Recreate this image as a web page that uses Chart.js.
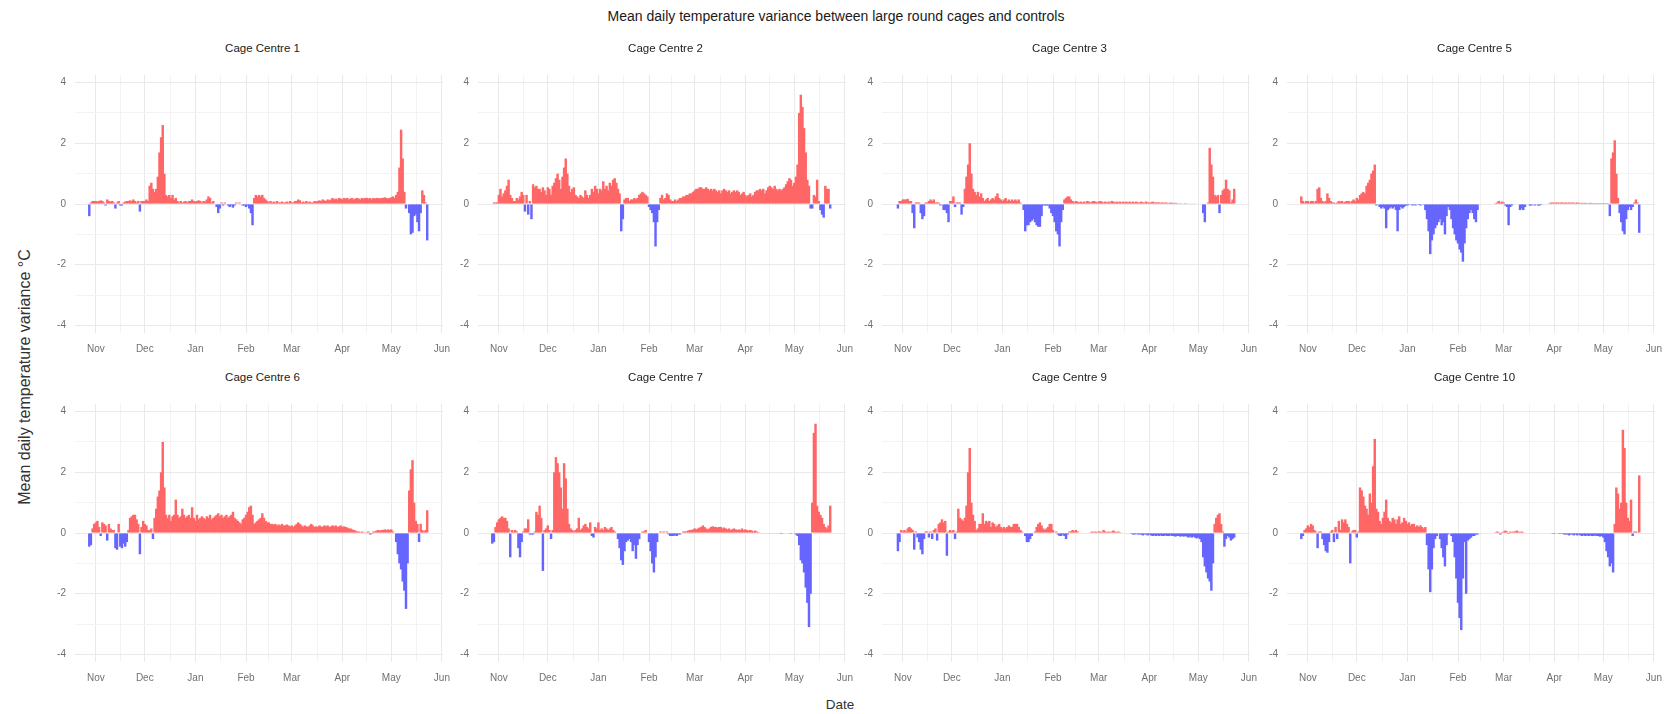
<!DOCTYPE html>
<html><head><meta charset="utf-8">
<script src="https://cdn.jsdelivr.net/npm/chart.js@4.4.1/dist/chart.umd.min.js"></script>
<style>
html,body{margin:0;padding:0;background:#fff;}
body{width:1671px;height:714px;position:relative;overflow:hidden;font-family:"Liberation Sans",Arial,sans-serif;}
.txt{position:absolute;white-space:nowrap;transform:translate(-50%,-50%);color:#1a1a1a;line-height:1;}
</style></head><body>
<div class="txt" style="left:836px;top:16px;font-size:14px;">Mean daily temperature variance between large round cages and controls</div>
<div class="txt" style="left:25px;top:377px;font-size:16px;color:#333;transform:translate(-50%,-50%) rotate(-90deg);">Mean daily temperature variance °C</div>
<div class="txt" style="left:840px;top:705px;font-size:13.5px;color:#333;">Date</div>
<script>
const panelNames = ['Cage Centre 1','Cage Centre 2','Cage Centre 3','Cage Centre 5','Cage Centre 6','Cage Centre 7','Cage Centre 9','Cage Centre 10'];
const firstDay = -4; // 28 Oct, in days from 1 Nov
const monthStarts = [0,30,61,92,120,151,181,212];
const monthLabels = ['Nov','Dec','Jan','Feb','Mar','Apr','May','Jun'];
const monthMids = [15,45.5,76.5,106,135.5,166,196.5];
const yTickLabels = [-4,-2,0,2,4];
const yMinor = [-3,-1,1,3];

const cc1 = [-0.4,0.05,0.1,0.1,0.1,0.08,0.1,0.12,0.1,0.05,
 -0.05,0.15,0.1,0.08,0.1,0.05,-0.15,0.05,0.1,-0.05,
 -0.05,0.05,0.08,0.1,0.1,0.12,0.1,0.15,0.1,0.05,
 0.1,-0.25,0.1,0.1,0.1,0.15,0.1,0.6,0.7,0.5,
 0.4,0.5,0.9,1.7,2.2,2.6,1.0,0.3,0.25,0.3,
 0.2,0.3,0.15,0.2,0.1,0.05,0.1,0.05,0.08,0.1,
 0.05,0.1,0.1,0.15,0.1,0.08,0.1,0.12,0.1,0.05,
 0.1,0.08,0.15,0.25,0.2,0.05,0.1,0,-0.1,-0.3,
 -0.15,0.05,-0.05,0.05,0,-0.05,-0.1,-0.05,-0.12,-0.05,
 0.05,0,0.05,0,-0.05,-0.05,-0.1,-0.05,-0.15,-0.3,
 -0.7,0.2,0.3,0.25,0.3,0.25,0.3,0.2,0.15,0.1,
 0.05,0.1,0.05,0.08,0.05,0.1,0.05,0.05,0.08,0.05,
 0.05,0.08,0.05,0.1,0.05,0.05,0.1,0.1,0.15,0.12,
 0.05,0.08,0.05,0.1,0.05,0.08,0.05,0.05,0.1,0.08,
 0.1,0.12,0.1,0.15,0.12,0.1,0.15,0.12,0.15,0.2,
 0.15,0.18,0.15,0.2,0.18,0.15,0.2,0.18,0.2,0.15,
 0.18,0.2,0.15,0.18,0.2,0.18,0.15,0.2,0.18,0.2,
 0.2,0.18,0.2,0.15,0.2,0.18,0.2,0.2,0.18,0.2,
 0.2,0.22,0.2,0.18,0.2,0.22,0.25,0.2,0.3,0.4,
 1.2,2.45,1.5,0.4,-0.15,0,-0.3,-1.0,-0.95,-0.4,
 -0.35,-0.6,-0.9,-0.3,0.45,0.3,0.05,-1.2];

const cc2 = [0,0.05,0.05,0.05,0.3,0.5,0.25,0.35,0.45,0.6,
 0.8,0.3,0.2,0.1,0.1,0.2,0.15,0.25,0.4,0.3,
 -0.25,0.3,-0.35,0.1,-0.5,0.65,0.55,0.6,0.5,0.5,
 0.4,0.55,0.45,0.3,0.55,0.5,0.3,0.6,0.7,0.85,
 1.0,0.8,0.5,0.9,1.2,1.5,1.0,0.6,0.4,0.5,
 0.55,0.3,0.25,0.2,0.3,0.25,0.2,0.45,0.3,0.2,
 0.3,0.5,0.4,0.6,0.5,0.35,0.5,0.45,0.75,0.5,
 0.6,0.45,0.7,0.6,0.8,0.85,0.7,0.5,0.35,-0.9,
 -0.5,0.15,0.2,0.2,0.1,0.15,0.15,0.2,0.15,0.2,
 0.3,0.35,0.4,0.35,0.3,0.25,-0.1,-0.2,-0.3,-0.6,
 -1.4,-0.6,-0.2,0.2,0.3,0.15,0.2,0.35,0.3,0.15,
 0.1,0.1,0.15,0.1,0.15,0.2,0.2,0.25,0.25,0.3,
 0.3,0.35,0.35,0.4,0.45,0.5,0.5,0.55,0.55,0.5,
 0.5,0.55,0.5,0.45,0.5,0.45,0.5,0.45,0.4,0.45,
 0.35,0.45,0.5,0.45,0.4,0.45,0.35,0.4,0.45,0.4,
 0.45,0.4,0.3,0.35,0.4,0.3,0.25,0.3,0.35,0.25,
 0.3,0.4,0.45,0.45,0.5,0.45,0.5,0.35,0.45,0.55,
 0.6,0.55,0.5,0.6,0.5,0.45,0.5,0.45,0.5,0.55,
 0.65,0.75,0.85,0.8,0.6,0.7,0.9,1.3,3.0,3.6,
 3.2,2.5,1.7,0.8,0.6,-0.15,-0.15,0.3,0.25,0.8,
 0.1,-0.2,-0.35,-0.45,0.6,0.5,0.5,-0.15];

const cc3 = [0,-0.15,0.1,0.1,0.15,0.15,0.15,0.17,0.1,0.1,
 -0.3,-0.8,0.05,0.05,0.05,-0.3,-0.5,-0.4,0.05,0.05,
 0.1,0.15,0.1,0.15,0.05,0.05,0.05,-0.05,0,-0.2,
 -0.2,-0.3,-0.6,0.1,0.1,0.25,-0.1,0.05,0.05,0.05,
 -0.35,-0.1,0.5,0.9,1.3,2.0,1.0,0.5,0.4,0.3,
 0.4,0.25,0.35,0.2,0.1,0.15,0.2,0.1,0.15,0.2,
 0.15,0.25,0.35,0.2,0.15,0.1,0.15,0.2,0.1,0.15,
 0.1,0.15,0.1,0.15,0.1,0.15,0.05,0,-0.2,-0.9,
 -0.7,-0.7,-0.6,-0.55,-0.5,-0.6,-0.7,-0.75,-0.75,-0.4,
 -0.05,-0.05,-0.05,-0.05,-0.15,-0.3,-0.4,-0.6,-0.9,-1.0,
 -1.4,-0.6,-0.2,0.15,0.2,0.25,0.25,0.15,0.1,0.05,
 0.1,0.08,0.05,0.08,0.05,0.08,0.05,0.1,0.08,0.05,
 0.08,0.1,0.08,0.05,0.08,0.1,0.08,0.05,0.08,0.05,
 0.08,0.05,0.1,0.08,0.05,0.08,0.05,0.08,0.05,0.08,
 0.05,0.08,0.05,0.08,0.05,0.08,0.05,0.08,0.05,0.05,
 0.08,0.05,0.05,0.08,0.05,0.05,0.05,0.08,0.05,0.05,
 0.05,0.05,0.04,0.05,0.04,0.05,0.04,0.03,0.05,0.04,
 0.03,0.04,0.03,0.02,0.03,0.02,0.02,0.03,0.02,0.02,
 0.02,0.02,0.02,0.02,0,0,0,0,-0.3,-0.6,
 0,0.05,1.85,1.3,0.9,0.3,0.25,0.3,-0.3,0.3,
 0.45,0.5,0.8,0.5,0.45,0.05,0.15,0.5];

const cc5 = [0.25,0.1,0.05,0.1,0.1,0.05,0.1,0.1,0.05,0.1,
 0.5,0.55,0.2,0.1,0.05,0.1,0.35,0.2,0.1,0.05,
 0.05,0.03,0.05,0.1,0.08,0.1,0.05,0.08,0.1,0.1,
 0.05,0.1,0.15,0.1,0.2,0.15,0.3,0.35,0.4,0.35,
 0.6,0.7,0.8,1.0,1.1,1.3,-0.05,0,-0.1,-0.15,
 -0.1,-0.15,-0.8,-0.2,-0.15,-0.1,-0.15,-0.1,-0.2,-0.9,
 -0.2,-0.1,-0.15,-0.1,-0.05,-0.05,-0.03,0,-0.05,-0.03,
 -0.05,0,-0.03,-0.05,0,-0.03,-0.2,-0.5,-0.9,-1.65,
 -1.2,-1.0,-0.8,-0.7,-0.6,-0.5,-0.7,-0.6,-1.0,-0.4,
 -0.1,-0.2,-0.5,-0.8,-1.0,-1.2,-1.3,-1.5,-1.6,-1.9,
 -1.3,-0.8,-0.5,-0.3,-0.2,-0.3,-0.5,-0.6,-0.2,0,
 0,0,0,0,0,0,0,0,0,0.03,
 0.05,0.1,0.05,0.08,0.05,-0.05,-0.1,-0.7,-0.1,-0.05,
 0,0,0,0,-0.2,-0.15,-0.2,-0.1,0,0,
 -0.05,-0.05,0,-0.05,0,-0.05,-0.05,-0.03,0,0,
 0,0,0.03,0.05,0.05,0.04,0.05,0.05,0.04,0.05,
 0.05,0.04,0.05,0.04,0.05,0.04,0.05,0.04,0.04,0.05,
 0.04,0.03,0.04,0.03,0.04,0.03,0.03,0.04,0.03,0.03,
 0.03,0.03,0.03,0.03,0.03,0.03,0.03,0.03,0.03,-0.4,
 1.5,1.7,2.1,1.0,0.2,-0.3,-0.6,-0.9,-1.0,-0.5,
 -0.2,-0.1,-0.2,-0.1,0.05,0.15,0.05,-0.95];

const cc6 = [-0.45,-0.4,0.15,0.3,0.35,0.4,0.2,-0.1,0.35,0.3,
 0.25,-0.25,0.3,0.15,0.1,0.1,-0.5,-0.55,0.3,-0.45,
 -0.5,-0.35,-0.45,-0.3,0.1,0.5,0.55,0.6,0.6,0.45,
 0.3,-0.7,0.2,0.4,0.3,0.25,0.1,0.1,0.15,-0.2,
 0.5,0.8,1.2,1.4,2.0,3.0,1.5,0.6,0.5,0.6,
 0.4,0.55,0.6,1.1,0.6,0.5,0.55,0.8,0.6,0.5,
 0.55,0.6,0.5,0.85,0.5,0.4,0.6,0.45,0.5,0.55,
 0.5,0.45,0.55,0.5,0.6,0.45,0.5,0.55,0.6,0.65,
 0.55,0.6,0.5,0.55,0.6,0.5,0.55,0.6,0.7,0.5,
 0.45,0.4,0.35,0.3,0.45,0.5,0.6,0.7,0.85,0.9,
 0.6,0.3,0.35,0.4,0.45,0.5,0.65,0.5,0.4,0.35,
 0.35,0.3,0.3,0.28,0.3,0.25,0.28,0.25,0.3,0.25,
 0.25,0.28,0.25,0.22,0.25,0.2,0.25,0.3,0.35,0.3,
 0.25,0.2,0.25,0.22,0.2,0.25,0.3,0.25,0.2,0.22,
 0.2,0.25,0.22,0.2,0.25,0.22,0.25,0.2,0.22,0.25,
 0.22,0.25,0.2,0.22,0.25,0.2,0.22,0.2,0.18,0.15,
 0.15,0.12,0.1,0.08,0.05,0.05,0.03,0.05,0.03,0.02,
 0.03,0.05,-0.05,-0.03,0.05,0.05,0.08,0.1,0.08,0.1,
 0.1,0.12,0.1,0.12,0.1,0.12,0.05,0,-0.3,-0.7,
 -1.0,-1.2,-1.6,-1.9,-2.5,-1.0,1.4,2.1,2.4,1.0,
 0.4,0.3,-0.3,0.3,0.1,0.05,0.1,0.75];

const cc7 = [-0.35,-0.3,0.2,0.35,0.45,0.5,0.55,0.5,0.5,0.4,
 0.15,-0.8,0.1,0.05,0.1,0.05,-0.5,-0.8,-0.3,0.05,
 0.15,0.15,0.45,-0.05,-0.05,-0.05,0.05,0.7,0.6,0.9,
 0.5,-1.25,0.1,0.15,0.25,0.1,-0.2,0.1,2.0,2.5,
 2.3,2.0,1.5,0.8,2.3,1.8,0.8,0.3,0.15,0.1,
 0.05,0.1,0.15,0.5,0.1,0.15,0.25,0.3,0.2,0.15,
 0.35,-0.1,-0.15,0.2,0.15,0.35,0.1,0.15,0.1,0.2,
 0.15,0.1,0.15,0.2,0.1,0.05,0,-0.2,-0.5,-0.9,
 -1.05,-0.6,-0.3,-0.25,-0.2,-0.3,-0.6,-0.4,-0.85,-0.4,
 -0.2,0,0.05,0.05,0.1,0,-0.3,-0.6,-1.0,-1.3,
 -0.8,-0.3,0,0.05,0.02,0.05,0,0.05,-0.05,-0.1,
 -0.1,-0.1,-0.08,-0.1,-0.05,-0.05,0,0.05,0.05,0.05,
 0.08,0.1,0.1,0.12,0.15,0.12,0.15,0.18,0.2,0.25,
 0.2,0.15,0.12,0.15,0.2,0.22,0.2,0.2,0.18,0.2,
 0.2,0.15,0.18,0.15,0.12,0.15,0.1,0.12,0.15,0.12,
 0.1,0.12,0.1,0.15,0.1,0.12,0.1,0.08,0.1,0.08,
 0.05,0.08,0.05,0.03,0.02,0,0,-0.02,0,-0.02,
 0,-0.02,-0.02,0,-0.02,0,-0.02,-0.03,-0.02,0,
 -0.02,0,-0.02,-0.03,0,-0.02,-0.05,-0.1,-0.4,-0.9,
 -1.0,-1.3,-1.8,-2.3,-3.1,-2.0,1.0,3.3,3.6,0.9,
 0.7,0.6,0.5,0.3,0.2,0.15,0.25,0.9];

const cc9 = [0,-0.6,-0.3,0.1,0.05,0.1,0.05,0.15,0.2,0.15,
 0.1,-0.55,0.05,-0.15,-0.3,-0.55,-0.7,-0.2,0.05,0.05,
 -0.15,0.05,-0.2,0.1,0.15,-0.25,0.3,0.35,0.45,0.35,
 0.4,-0.75,0.05,0.1,0.05,0.1,-0.2,0.05,0.8,0.5,
 0.45,0.4,0.5,0.9,2.0,2.8,1.0,0.6,0.4,0.1,
 0.15,0.3,0.3,0.65,0.3,0.4,0.35,0.4,0.2,0.35,
 0.3,0.2,0.25,0.3,0.2,0.15,0.2,0.15,0.2,0.25,
 0.2,0.2,0.3,0.3,0.3,0.2,0.1,0.05,0,-0.1,
 -0.3,-0.3,-0.2,-0.1,0,0.05,0.2,0.3,0.35,0.25,
 0.15,0.1,0.15,0.2,0.3,0.3,0.1,0,0.05,-0.05,
 -0.1,-0.1,-0.05,-0.1,-0.2,-0.05,0.05,0.05,0.1,0.05,
 0.1,0.05,0,0,0,0,0,0,0,0.03,
 0.05,0.03,0.05,0.03,0.05,0.05,0.03,0.1,0.05,0.03,
 0.05,0.03,0.05,0.08,0.05,0.03,0.05,0.03,0,0,
 0,0,0,0,-0.03,-0.05,-0.05,-0.03,-0.05,-0.05,
 -0.05,-0.08,-0.05,-0.05,-0.08,-0.05,-0.08,-0.1,-0.08,-0.1,
 -0.08,-0.1,-0.08,-0.1,-0.1,-0.08,-0.1,-0.1,-0.08,-0.1,
 -0.1,-0.12,-0.1,-0.1,-0.12,-0.1,-0.12,-0.1,-0.12,-0.15,
 -0.12,-0.15,-0.12,-0.15,-0.18,-0.15,-0.2,-0.3,-0.8,-1.1,
 -1.3,-1.5,-1.6,-1.9,-1.0,0.3,0.5,0.6,0.65,0.3,
 0.05,-0.45,-0.2,-0.1,-0.15,-0.25,-0.2,-0.15];

const cc10 = [-0.2,-0.1,0.1,0.15,0.25,0.2,0.3,0.25,0.1,0.05,
 -0.5,0.05,0.05,-0.2,-0.4,-0.6,-0.65,-0.3,0.05,0.1,
 -0.3,0.2,-0.2,0.4,0.1,0.45,0.35,0.45,0.3,0.2,
 -1.0,0.05,0.1,0.1,-0.15,0.05,1.5,1.4,1.2,0.9,
 0.8,0.6,1.3,1.0,2.2,3.1,0.8,0.7,0.4,0.3,
 0.5,0.7,1.1,0.5,0.4,0.35,0.5,0.45,0.3,0.45,
 0.55,0.3,0.35,0.5,0.4,0.3,0.35,0.25,0.3,0.3,
 0.2,0.25,0.2,0.25,0.2,0.15,0.2,-0.4,-1.2,-1.95,
 -1.2,-0.5,-0.2,-0.1,0,-0.2,-0.5,-0.8,-1.1,-0.4,
 -0.05,0,-0.1,-0.3,-0.8,-1.5,-2.3,-2.8,-3.2,-1.5,
 -0.3,-2.0,-0.25,-0.2,-0.15,-0.1,-0.1,-0.05,-0.05,0,
 0,0,0,0,0,0,0,0,0,0.03,
 0.05,0.03,-0.05,0.03,0.05,0.08,0.05,-0.03,0.05,0.03,
 0.05,0.05,0.08,0.05,0.03,0.05,0.03,0,0,0,
 0,0,-0.02,0,0,0,0,0,0,0,
 0,0,0,0,-0.03,-0.03,0,-0.02,-0.03,-0.03,
 -0.03,-0.05,-0.05,-0.05,-0.08,-0.05,-0.05,-0.08,-0.05,-0.08,
 -0.05,-0.08,-0.1,-0.08,-0.1,-0.08,-0.1,-0.08,-0.1,-0.1,
 -0.08,-0.1,-0.1,-0.12,-0.1,-0.15,-0.3,-0.6,-0.8,-1.1,
 -1.0,-1.3,0.3,1.5,1.3,0.8,1.0,3.4,2.8,1.0,
 0.5,0.4,1.1,-0.1,0.05,0.05,0.03,1.9];

const series = [cc1,cc2,cc3,cc5,cc6,cc7,cc9,cc10];

const RED = 'rgb(255,102,102)';
const BLUE = 'rgb(102,102,255)';
const FONT = '"Liberation Sans", Arial, sans-serif';
const plotLefts = [75,478,882,1287];
const plotTops = [65,394];
const PW = 371, PH = 268, PADL = 40, PADT = 5, PADR = 14, PADB = 25;
const allXTicks = monthStarts.concat(monthMids).sort((a,b)=>a-b);
const allYTicks = yTickLabels.concat(yMinor).sort((a,b)=>a-b);

series.forEach((vals, i) => {
  const col = i % 4, row = Math.floor(i / 4);
  const canvas = document.createElement('canvas');
  canvas.width = PADL + PW + PADR;
  canvas.height = PADT + PH + PADB;
  canvas.style.position = 'absolute';
  canvas.style.left = (plotLefts[col] - PADL) + 'px';
  canvas.style.top = (plotTops[row] - PADT) + 'px';
  document.body.appendChild(canvas);

  const t = document.createElement('div');
  t.className = 'txt';
  t.textContent = panelNames[i];
  t.style.left = (plotLefts[col] + PW / 2 + 2) + 'px';
  t.style.top = (plotTops[row] - 16) + 'px';
  t.style.fontSize = '11.5px';
  t.style.color = '#222';
  document.body.appendChild(t);

  const data = vals.map((v, k) => ({x: firstDay + k, y: v}));
  new Chart(canvas, {
    type: 'bar',
    data: {datasets: [{
      data: data,
      backgroundColor: data.map(p => p.y >= 0 ? RED : BLUE),
      borderWidth: 0,
      barPercentage: 1.5,
      categoryPercentage: 1
    }]},
    options: {
      responsive: false, animation: false, devicePixelRatio: 1,
      layout: {padding: {left: 0, top: PADT, right: PADR, bottom: 0}},
      plugins: {legend: {display: false}, tooltip: {enabled: false}, title: {display: false}},
      scales: {
        x: {
          type: 'linear', min: -12.75, max: 212.65, offset: false,
          afterBuildTicks: s => { s.ticks = allXTicks.map(v => ({value: v})); },
          afterFit: s => { s.height = PADB; },
          ticks: {autoSkip: false, maxRotation: 0, minRotation: 0, padding: 10, color: '#707070',
            font: {size: 10, family: FONT},
            callback: v => { const k = monthStarts.indexOf(v); return k >= 0 ? monthLabels[k] : ''; }},
          grid: {offset: false, drawTicks: false,
            color: c => (c.tick && monthStarts.includes(c.tick.value)) ? '#e9e9e9' : '#f3f3f3', lineWidth: 1},
          border: {display: false}
        },
        y: {
          min: -4.25, max: 4.25,
          afterBuildTicks: s => { s.ticks = allYTicks.map(v => ({value: v})); },
          afterFit: s => { s.width = PADL; },
          ticks: {autoSkip: false, padding: 9, color: '#707070', font: {size: 10, family: FONT},
            callback: v => yTickLabels.includes(v) ? String(v) : ''},
          grid: {drawTicks: false,
            color: c => (c.tick && yTickLabels.includes(c.tick.value)) ? '#e9e9e9' : '#f3f3f3', lineWidth: 1},
          border: {display: false}
        }
      }
    }
  });
});
</script>
</body></html>
